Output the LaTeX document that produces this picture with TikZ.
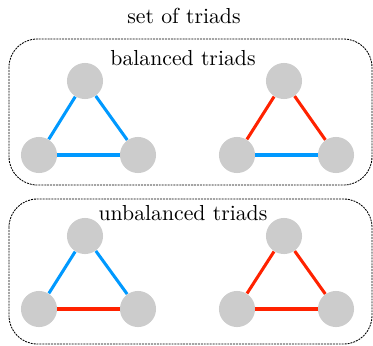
\documentclass[tikz,border=0pt]{standalone}
\begin{document}
\begin{tikzpicture}[x=0.46pt,y=-0.46pt,
  vert/.style={circle,fill=black!20,minimum size=16.6pt,inner sep=0pt},
  posedge/.style={draw={rgb,255:red,0;green,153;blue,255},line width=1.4pt},
  negedge/.style={draw={rgb,255:red,255;green,34;blue,0},line width=1.4pt},
  grp/.style={draw,dash pattern=on 0.9pt off 0.45pt,line width=0.4pt,rounded corners=13pt},
  lbl/.style={inner sep=0pt,anchor=base}]
\useasboundingbox (0,0) rectangle (373,345);
\node[lbl] (title) at (184,23) {set of triads};
\draw[grp] (9,39) rectangle (372,185);
\draw[grp] (9,199) rectangle (372,344);
\node[lbl] (bal) at (183,65) {balanced triads};
\node[lbl] (unb) at (183,220) {unbalanced triads};
% balanced
\node[vert] (a1) at (85,81) {};
\node[vert] (b1) at (39,155) {};
\node[vert] (c1) at (138,155) {};
\node[vert] (a2) at (284,81) {};
\node[vert] (b2) at (237,155) {};
\node[vert] (c2) at (336,155) {};
% unbalanced
\node[vert] (a3) at (85,236) {};
\node[vert] (b3) at (39,309) {};
\node[vert] (c3) at (138,309) {};
\node[vert] (a4) at (284,236) {};
\node[vert] (b4) at (237,309) {};
\node[vert] (c4) at (336,309) {};
\draw[posedge] (a1) -- (b1);
\draw[posedge] (a1) -- (c1);
\draw[posedge] (b1) -- (c1);
\draw[negedge] (a2) -- (b2);
\draw[negedge] (a2) -- (c2);
\draw[posedge] (b2) -- (c2);
\draw[posedge] (a3) -- (b3);
\draw[posedge] (a3) -- (c3);
\draw[negedge] (b3) -- (c3);
\draw[negedge] (a4) -- (b4);
\draw[negedge] (a4) -- (c4);
\draw[negedge] (b4) -- (c4);
\end{tikzpicture}
\end{document}
